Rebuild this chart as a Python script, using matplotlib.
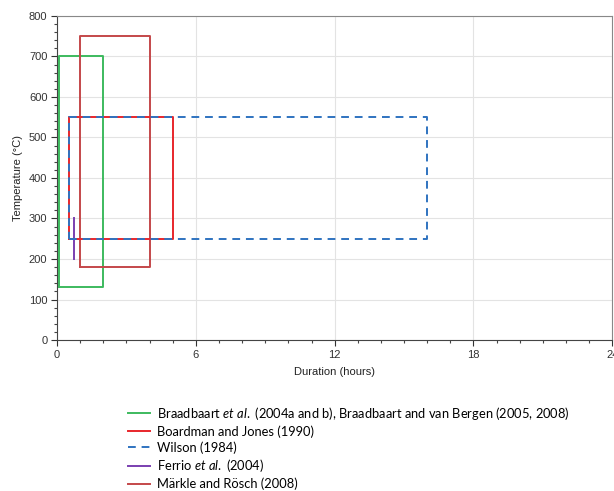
import matplotlib
matplotlib.use("Agg")
import matplotlib.pyplot as plt
from matplotlib.ticker import MultipleLocator
from matplotlib.lines import Line2D

plt.rcParams['font.family'] = ['Liberation Sans', 'DejaVu Sans']
plt.rcParams['mathtext.fontset'] = 'custom'
plt.rcParams['mathtext.rm'] = 'Lato'
plt.rcParams['mathtext.it'] = 'Lato:italic'

# Data: duration (hours) and temperature (°C) ranges per study
studies = ["Braadbaart $\\it{et\\ al.}$ (2004a and b), Braadbaart and van Bergen (2005, 2008)",
           "Boardman and Jones (1990)",
           "Wilson (1984)",
           "Ferrio $\\it{et\\ al.}$ (2004)",
           "Märkle and Rösch (2008)"]
dur_min = [0.08, 0.5, 0.5, 0.75, 1.0]
dur_max = [2.0, 5.0, 16.0, 0.75, 4.0]
temp_min = [130, 250, 250, 200, 180]
temp_max = [700, 550, 550, 300, 750]

colors = ['#3dba5e', '#e8262b', '#2f73c0', '#7a3fb0', '#c4474a']
styles = ['-', '-', (0, (4, 3)), '-', '-']
zorders = [3, 3, 5, 4, 3]

fig = plt.figure(figsize=(6.14, 4.91), dpi=100)
ax = fig.add_axes([0.093, 0.3075, 0.904, 0.66])

draw_order = [0, 4, 1, 3, 2]
for i in draw_order:
    x0, x1, y0, y1 = dur_min[i], dur_max[i], temp_min[i], temp_max[i]
    if x0 == x1:
        xs, ys = [x0, x1], [y0, y1]
    else:
        xs = [x0, x1, x1, x0, x0]
        ys = [y0, y0, y1, y1, y0]
    ax.plot(xs, ys, color=colors[i], linestyle=styles[i], lw=1.4, zorder=zorders[i])

ax.set_xlim(0, 24)
ax.set_ylim(0, 800)
ax.xaxis.set_major_locator(MultipleLocator(6))
ax.xaxis.set_minor_locator(MultipleLocator(1))
ax.yaxis.set_major_locator(MultipleLocator(100))
ax.yaxis.set_minor_locator(MultipleLocator(20))
ax.grid(True, which='major', color='#e3e3e3', lw=0.8, zorder=0)
ax.set_axisbelow(True)
for s in ax.spines.values():
    s.set_color('#888888')
    s.set_linewidth(0.8)
ax.spines['left'].set_color('#444444')
ax.spines['bottom'].set_color('#444444')
ax.tick_params(which='major', length=4, width=0.8, labelsize=8, colors='#333333', pad=3)
ax.tick_params(which='minor', length=2.5, width=0.8, colors='#444444')
ax.set_xlabel("Duration (hours)", fontsize=8, color='#222222', labelpad=5)
ax.set_ylabel("Temperature (°C)", fontsize=8, color='#222222', labelpad=4)

handles = [Line2D([0], [0], color=colors[i], linestyle=styles[i], lw=1.4) for i in range(5)]
fig.legend(handles, studies, loc='upper left', bbox_to_anchor=(0.208, 0.176),
           frameon=False, handlelength=1.7, handletextpad=0.6, labelspacing=0.27,
           borderpad=0, borderaxespad=0,
           prop={'family': 'Lato', 'size': 9.3})

fig.savefig("out.png", dpi=100)
